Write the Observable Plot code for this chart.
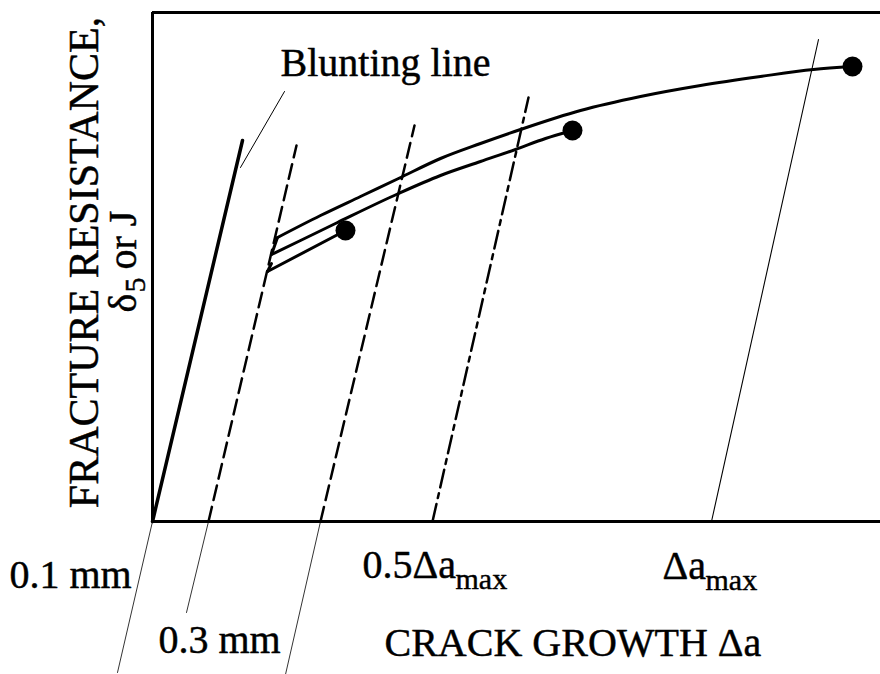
<!DOCTYPE html>
<html>
<head>
<meta charset="utf-8">
<script src="https://cdn.jsdelivr.net/npm/d3@7"></script>
<script src="https://cdn.jsdelivr.net/npm/@observablehq/plot@0.6"></script>
<style>
  html, body { margin: 0; padding: 0; background: #fff; }
  #chart svg { display: block; }
</style>
</head>
<body>
<div id="chart"></div>
<script>
// ---- Data (arbitrary units: crack growth Δa along x, fracture resistance along y) ----
const bluntingLine = [[0, 0], [90, 381]];
const leaderLine = [[88, 354], [132, 430]];
const offset01 = [[56, 0], [144, 376]];          // 0.1 mm offset line (dashed)
const exclusion03 = [[168, 0], [262, 396]];      // 0.3 mm line (dashed)
const halfMax = [[280, 0], [376, 424]];          // 0.5 Δa_max line (dash-dot)
const fullMax = [[559, 0], [666, 482]];          // Δa_max line (thin)
const extBlunt = [[0, 0], [-35, -151]];
const ext01 = [[56, 0], [34, -91]];
const ext03 = [[168, 0], [133, -153]];

const curveUpper = [[125, 284], [168, 306], [208, 325], [246, 343], [288, 363], [328, 378], [368, 392], [428, 411], [488, 425], [548, 436], [608, 445], [661, 452], [700, 455]];
const hookUpper = [[125, 284], [119, 267]];
const curveMiddle = [[119, 267], [148, 281], [185, 299], [246, 328], [288, 346], [328, 360], [363, 372], [393, 383], [420, 391]];
const hookLower = [[119, 258], [115, 250]];
const curveLower = [[115, 250], [193, 291]];
const endPoints = [[193, 291], [420, 391], [700, 455]];

const xDomain = [0, 728];
const yDomain = [0, 509];

// ---- Labels (data-space anchors) ----
const labelsMain = [
  {text: "Blunting line", x: 128, y: 446},
  {text: "0.1 mm", x: -143, y: -66},
  {text: "0.3 mm", x: 6, y: -131},
  {text: "CRACK GROWTH Δa", x: 232, y: -134},
  {text: "0.5Δa", x: 210, y: -56},
  {text: "Δa", x: 510, y: -57}
];
const labelsSub = [
  {text: "max", x: 303, y: -67},
  {text: "max", x: 553, y: -68}
];
const yTitle = [{text: "FRACTURE RESISTANCE,", x: -55, y: 259}];
const yTitle2 = [
  {text: "δ", x: -17, y: 209, size: 40},
  {text: "5", x: -8, y: 229, size: 30},
  {text: "or J", x: -17, y: 252, size: 40}
];

const FONT = "'Liberation Serif', 'Times New Roman', serif";
const px = d => d[0], py = d => d[1];
const ink = {fill: "#000", stroke: "#000", strokeWidth: 0.45, fontFamily: FONT};

const chart = Plot.plot({
  width: 880,
  height: 674,
  marginLeft: 152,
  marginRight: 0,
  marginTop: 12,
  marginBottom: 153,
  x: {domain: xDomain, axis: null},
  y: {domain: yDomain, axis: null},
  style: {background: "#fff", overflow: "visible"},
  marks: [
    // frame: left, top, bottom
    Plot.ruleX([xDomain[0]], {stroke: "#000", strokeWidth: 3}),
    Plot.ruleY([yDomain[0]], {stroke: "#000", strokeWidth: 3}),
    Plot.ruleY([yDomain[1]], {stroke: "#000", strokeWidth: 3}),
    // construction lines
    Plot.line(bluntingLine, {x: px, y: py, stroke: "#000", strokeWidth: 3.5}),
    Plot.line(leaderLine, {x: px, y: py, stroke: "#000", strokeWidth: 1}),
    Plot.line(offset01, {x: px, y: py, stroke: "#000", strokeWidth: 2.5, strokeDasharray: "15,7"}),
    Plot.line(exclusion03, {x: px, y: py, stroke: "#000", strokeWidth: 2.5, strokeDasharray: "15,7"}),
    Plot.line(halfMax, {x: px, y: py, stroke: "#000", strokeWidth: 2.5, strokeDasharray: "18,6,5,6"}),
    Plot.line(fullMax, {x: px, y: py, stroke: "#000", strokeWidth: 1.1}),
    Plot.line(extBlunt, {x: px, y: py, stroke: "#000", strokeWidth: 0.8}),
    Plot.line(ext01, {x: px, y: py, stroke: "#000", strokeWidth: 0.8}),
    Plot.line(ext03, {x: px, y: py, stroke: "#000", strokeWidth: 0.8}),
    // resistance curves
    Plot.line(curveUpper, {x: px, y: py, stroke: "#000", strokeWidth: 3, curve: "monotone-x"}),
    Plot.line(hookUpper, {x: px, y: py, stroke: "#000", strokeWidth: 3}),
    Plot.line(curveMiddle, {x: px, y: py, stroke: "#000", strokeWidth: 3, curve: "monotone-x"}),
    Plot.line(hookLower, {x: px, y: py, stroke: "#000", strokeWidth: 3}),
    Plot.line(curveLower, {x: px, y: py, stroke: "#000", strokeWidth: 3}),
    Plot.dot(endPoints, {x: px, y: py, r: 10, fill: "#000", stroke: "none"}),
    // labels
    Plot.text(labelsMain, {x: "x", y: "y", text: "text", textAnchor: "start", lineAnchor: "bottom", fontSize: 40, ...ink}),
    Plot.text(labelsSub, {x: "x", y: "y", text: "text", textAnchor: "start", lineAnchor: "bottom", fontSize: 30, ...ink}),
    Plot.text(yTitle, {x: "x", y: "y", text: "text", textAnchor: "middle", lineAnchor: "bottom", rotate: -90, fontSize: 42, ...ink}),
    Plot.text(yTitle2, {x: "x", y: "y", text: "text", textAnchor: "start", lineAnchor: "bottom", rotate: -90, fontSize: d => d.size, ...ink})
  ]
});
document.getElementById("chart").appendChild(chart);
</script>
</body>
</html>
